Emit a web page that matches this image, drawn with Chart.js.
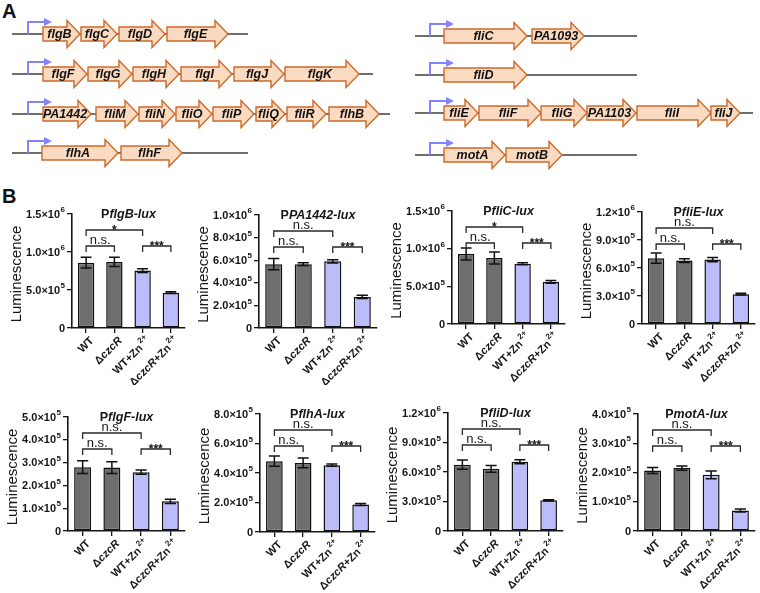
<!DOCTYPE html>
<html><head><meta charset="utf-8">
<script src="https://cdn.jsdelivr.net/npm/chart.js@4.4.1/dist/chart.umd.min.js"></script>
<style>
html,body{margin:0;padding:0;background:#fff}
body{width:760px;height:593px;position:relative;overflow:hidden;font-family:'Liberation Sans',Arial,sans-serif}
canvas{position:absolute}
.panel{position:absolute;font:bold 20px 'Liberation Sans',Arial,sans-serif;color:#111;line-height:22px}
</style></head><body>
<div class="panel" style="left:2px;top:0px">A</div>
<div class="panel" style="left:2px;top:185px">B</div>
<script>
// ---------------- DATA ----------------
const categories = ['WT', 'ΔczcR', 'WT+Zn2+', 'ΔczcR+Zn2+'];
const reporterGenes = ['flgB', 'PA1442', 'fliC', 'fliE', 'flgF', 'flhA', 'fliD', 'motA'];

const flgB_mean   = [8.6e5, 8.7e5, 7.55e5, 4.65e5];
const flgB_err    = [7.0e4, 6.0e4, 2.5e4, 1.2e4];
const PA1442_mean = [5.65e5, 5.65e5, 5.9e5, 2.75e5];
const PA1442_err  = [5.0e4, 1.3e4, 1.5e4, 1.5e4];
const fliC_mean   = [9.3e5, 8.75e5, 8.0e5, 5.6e5];
const fliC_err    = [8.0e4, 8.0e4, 1.3e4, 1.8e4];
const fliE_mean   = [7.05e5, 6.8e5, 6.9e5, 3.2e5];
const fliE_err    = [5.5e4, 2.0e4, 2.2e4, 1.0e4];
const flgF_mean   = [2.8e5, 2.78e5, 2.58e5, 1.3e5];
const flgF_err    = [2.8e4, 2.6e4, 9.0e3, 9.0e3];
const flhA_mean   = [4.8e5, 4.68e5, 4.53e5, 1.87e5];
const flhA_err    = [3.5e4, 3.3e4, 8.0e3, 7.0e3];
const fliD_mean   = [6.75e5, 6.32e5, 7.05e5, 3.12e5];
const fliD_err    = [4.8e4, 3.5e4, 2.0e4, 7.0e3];
const motA_mean   = [2.07e5, 2.15e5, 1.92e5, 7.0e4];
const motA_err    = [1.0e4, 7.5e3, 1.3e4, 5.0e3];

const yMax  = [1.5e6, 1.0e6, 1.5e6, 1.2e6, 5.0e5, 8.0e5, 1.2e6, 4.0e5];
const yStep = [5.0e5, 2.0e5, 5.0e5, 3.0e5, 1.0e5, 2.0e5, 3.0e5, 1.0e5];
const yTickLabels = [
  ['0', '5.0×10^5', '1.0×10^6', '1.5×10^6'],
  ['0', '2.0×10^5', '4.0×10^5', '6.0×10^5', '8.0×10^5', '1.0×10^6'],
  ['0', '5.0×10^5', '1.0×10^6', '1.5×10^6'],
  ['0', '3.0×10^5', '6.0×10^5', '9.0×10^5', '1.2×10^6'],
  ['0', '1.0×10^5', '2.0×10^5', '3.0×10^5', '4.0×10^5', '5.0×10^5'],
  ['0', '2.0×10^5', '4.0×10^5', '6.0×10^5', '8.0×10^5'],
  ['0', '3.0×10^5', '6.0×10^5', '9.0×10^5', '1.2×10^6'],
  ['0', '1.0×10^5', '2.0×10^5', '3.0×10^5', '4.0×10^5']
];
const sigWTvsWTZn   = ['*', 'n.s.', '*', 'n.s.', 'n.s.', 'n.s.', 'n.s.', 'n.s.'];
const sigWTvsCzcR   = ['n.s.', 'n.s.', 'n.s.', 'n.s.', 'n.s.', 'n.s.', 'n.s.', 'n.s.'];
const sigZnPair     = ['***', '***', '***', '***', '***', '***', '***', '***'];
const yAxisTitle = 'Luminescence';

const meansList = [flgB_mean, PA1442_mean, fliC_mean, fliE_mean, flgF_mean, flhA_mean, fliD_mean, motA_mean];
const errsList  = [flgB_err, PA1442_err, fliC_err, fliE_err, flgF_err, flhA_err, fliD_err, motA_err];

// Panel A operons (gene name, start, end along the drawing axis)
const op_flgB_genes  = ['flgB', 'flgC', 'flgD', 'flgE'];
const op_flgB_start  = [43, 81, 119, 167];
const op_flgB_end    = [80, 117, 165, 228];
const op_flgF_genes  = ['flgF', 'flgG', 'flgH', 'flgI', 'flgJ', 'flgK'];
const op_flgF_start  = [43, 88, 133, 181, 234, 285];
const op_flgF_end    = [87, 132, 179, 232, 284, 359];
const op_PA1442_genes = ['PA1442', 'fliM', 'fliN', 'fliO', 'fliP', 'fliQ', 'fliR', 'flhB'];
const op_PA1442_start = [43, 96, 139, 176, 213, 256, 287, 329];
const op_PA1442_end   = [91, 138, 175, 212, 254, 285, 326, 379];
const op_flhA_genes  = ['flhA', 'flhF'];
const op_flhA_start  = [42, 121];
const op_flhA_end    = [118, 182];
const op_fliC_genes  = ['fliC', 'PA1093'];
const op_fliC_start  = [444, 532];
const op_fliC_end    = [527, 584];
const op_fliD_genes  = ['fliD'];
const op_fliD_start  = [444];
const op_fliD_end    = [527];
const op_fliE_genes  = ['fliE', 'fliF', 'fliG', 'PA1103', 'fliI', 'fliJ'];
const op_fliE_start  = [444, 479, 541, 587, 637, 711];
const op_fliE_end    = [478, 541, 587, 636, 711, 740];
const op_motA_genes  = ['motA', 'motB'];
const op_motA_start  = [444, 506];
const op_motA_end    = [505, 562];

// ---------------- LAYOUT / STYLE ----------------
const FONT = "'Liberation Sans', Arial, sans-serif";
const operons = [
  {g: op_flgB_genes, s: op_flgB_start, e: op_flgB_end, y: 34, from: 12, to: 248, prom: 28},
  {g: op_flgF_genes, s: op_flgF_start, e: op_flgF_end, y: 74, from: 12, to: 373, prom: 28},
  {g: op_PA1442_genes, s: op_PA1442_start, e: op_PA1442_end, y: 114, from: 12, to: 390, prom: 28},
  {g: op_flhA_genes, s: op_flhA_start, e: op_flhA_end, y: 153, from: 12, to: 248, prom: 28},
  {g: op_fliC_genes, s: op_fliC_start, e: op_fliC_end, y: 36, from: 415, to: 637, prom: 430},
  {g: op_fliD_genes, s: op_fliD_start, e: op_fliD_end, y: 75, from: 415, to: 637, prom: 430},
  {g: op_fliE_genes, s: op_fliE_start, e: op_fliE_end, y: 113, from: 415, to: 753, prom: 430},
  {g: op_motA_genes, s: op_motA_start, e: op_motA_end, y: 155, from: 415, to: 637, prom: 430}
];

const boxes = [
  {x0: 0,   y0: 172, L: 72,  R: 185, T: 214, B: 328},
  {x0: 190, y0: 172, L: 259, R: 377, T: 215, B: 328},
  {x0: 380, y0: 172, L: 452, R: 565, T: 211, B: 324},
  {x0: 570, y0: 172, L: 642, R: 755, T: 212, B: 324},
  {x0: 0,   y0: 385, L: 68,  R: 185, T: 417, B: 531},
  {x0: 190, y0: 385, L: 260, R: 375, T: 414, B: 532},
  {x0: 380, y0: 385, L: 448, R: 563, T: 413, B: 531},
  {x0: 570, y0: 385, L: 638, R: 755, T: 414, B: 531}
];
const CW = 190;
const barColors = ['#6e6e6e', '#6e6e6e', '#bcbcfa', '#bcbcfa'];

function makeCanvas(x, y, w, h) {
  const c = document.createElement('canvas');
  c.width = w; c.height = h;
  c.style.left = x + 'px'; c.style.top = y + 'px';
  c.style.width = w + 'px'; c.style.height = h + 'px';
  document.body.appendChild(c);
  return c;
}

// ---------------- PANEL A ----------------
const geneMapPlugin = {
  id: 'geneMap',
  afterDraw(chart) {
    const ctx = chart.ctx, xs = chart.scales.x, ys = chart.scales.y;
    const px = v => xs.getPixelForValue(v), py = v => ys.getPixelForValue(v);
    operons.forEach(op => {
      const y = py(op.y);
      ctx.save();
      ctx.strokeStyle = '#6f6f6f'; ctx.lineWidth = 2;
      ctx.beginPath(); ctx.moveTo(px(op.from), y); ctx.lineTo(px(op.to), y); ctx.stroke();
      // promoter
      const p = px(op.prom);
      ctx.strokeStyle = '#8383ff'; ctx.fillStyle = '#8383ff'; ctx.lineWidth = 2;
      ctx.beginPath(); ctx.moveTo(p, y); ctx.lineTo(p, y - 12); ctx.lineTo(p + 17, y - 12); ctx.stroke();
      ctx.beginPath(); ctx.moveTo(p + 16, y - 16); ctx.lineTo(p + 24, y - 12); ctx.lineTo(p + 16, y - 8); ctx.closePath(); ctx.fill();
      // genes
      op.g.forEach((name, i) => {
        const a = px(op.s[i]), b = px(op.e[i]);
        const hs = Math.max(a, b - 13);
        ctx.beginPath();
        ctx.moveTo(a, y - 7); ctx.lineTo(hs, y - 7); ctx.lineTo(hs, y - 13.5);
        ctx.lineTo(b, y); ctx.lineTo(hs, y + 13.5); ctx.lineTo(hs, y + 7); ctx.lineTo(a, y + 7);
        ctx.closePath();
        ctx.fillStyle = '#fbdac2'; ctx.fill();
        ctx.strokeStyle = '#cc6a2a'; ctx.lineWidth = 1.4; ctx.lineJoin = 'miter'; ctx.stroke();
        ctx.fillStyle = '#111';
        ctx.font = 'italic bold 12.5px ' + FONT;
        ctx.textAlign = 'center'; ctx.textBaseline = 'middle';
        ctx.fillText(name, (a + b) / 2 - 2, y + 0.5);
      });
      ctx.restore();
    });
  }
};
new Chart(makeCanvas(0, 0, 760, 172), {
  type: 'scatter',
  data: {datasets: [{data: []}]},
  options: {
    responsive: false, animation: false, devicePixelRatio: 1,
    layout: {padding: 0},
    plugins: {legend: {display: false}, tooltip: {enabled: false}},
    scales: {
      x: {type: 'linear', min: 0, max: 760, display: false},
      y: {type: 'linear', min: 0, max: 172, reverse: true, display: false}
    }
  },
  plugins: [geneMapPlugin]
});

// ---------------- PANEL B ----------------
function drawSciLabel(ctx, lbl, x, y) {
  const parts = lbl.split('^');
  ctx.textBaseline = 'middle'; ctx.textAlign = 'left';
  const mainFont = 'bold 11px ' + FONT, supFont = 'bold 8px ' + FONT;
  ctx.font = mainFont; const w1 = ctx.measureText(parts[0]).width;
  let w2 = 0;
  if (parts[1]) { ctx.font = supFont; w2 = ctx.measureText(parts[1]).width + 0.5; }
  const start = x - w1 - w2;
  ctx.font = mainFont; ctx.fillText(parts[0], start, y);
  if (parts[1]) { ctx.font = supFont; ctx.fillText(parts[1], start + w1 + 0.5, y - 4.5); }
}
function labelSegments(lbl) {
  const segs = []; let rest = lbl;
  if (rest.startsWith('Δ')) { segs.push({t: 'Δ', s: 'n'}); rest = rest.slice(1); }
  if (rest.startsWith('czcR')) { segs.push({t: 'czcR', s: 'i'}); rest = rest.slice(4); }
  const m = rest.match(/^(.*?)(2\+)?$/);
  if (m[1]) segs.push({t: m[1], s: 'n'});
  if (m[2]) segs.push({t: m[2], s: 's'});
  return segs;
}
const segFont = {n: 'bold 11px ' + FONT, i: 'italic bold 11px ' + FONT, s: 'bold 8px ' + FONT};

function makeBarPlugin(idx) {
  return {
    id: 'annot' + idx,
    afterDatasetsDraw(chart) {
      const ctx = chart.ctx, ys = chart.scales.y;
      const meta = chart.getDatasetMeta(0);
      const means = meansList[idx], errs = errsList[idx];
      ctx.save();
      ctx.strokeStyle = '#111'; ctx.lineWidth = 1.5;
      meta.data.forEach((bar, i) => {
        const yt = ys.getPixelForValue(means[i] + errs[i]);
        const yb = ys.getPixelForValue(means[i] - errs[i]);
        const cap = bar.width * 0.33;
        ctx.beginPath();
        ctx.moveTo(bar.x, yt); ctx.lineTo(bar.x, yb);
        ctx.moveTo(bar.x - cap, yt); ctx.lineTo(bar.x + cap, yt);
        ctx.moveTo(bar.x - cap, yb); ctx.lineTo(bar.x + cap, yb);
        ctx.stroke();
      });
      ctx.restore();
    },
    afterDraw(chart) {
      const ctx = chart.ctx, ys = chart.scales.y, xs = chart.scales.x, ca = chart.chartArea;
      ctx.save();
      ctx.fillStyle = '#161616';
      // y tick labels
      ys.ticks.forEach((t, i) => {
        drawSciLabel(ctx, yTickLabels[idx][i], ca.left - 7, ys.getPixelForValue(t.value) + 0.5);
      });
      // y axis title
      ctx.save();
      ctx.translate(ca.left - 55, (ca.top + ca.bottom) / 2 + 3);
      ctx.rotate(-Math.PI / 2);
      ctx.font = '15px ' + FONT; ctx.textAlign = 'center'; ctx.textBaseline = 'middle';
      ctx.fillText(yAxisTitle, 0, 0);
      ctx.restore();
      // x tick labels (rotated 45°)
      categories.forEach((lbl, i) => {
        const tx = xs.getPixelForValue(i);
        const segs = labelSegments(lbl);
        let total = 0;
        segs.forEach(sg => { ctx.font = segFont[sg.s]; sg.w = ctx.measureText(sg.t).width; total += sg.w + (sg.s === 's' ? 1.5 : 0); });
        ctx.save();
        ctx.translate(tx + 6, ca.bottom + 11);
        ctx.rotate(-Math.PI / 4);
        ctx.textAlign = 'left'; ctx.textBaseline = 'middle';
        let x = -total;
        segs.forEach(sg => {
          ctx.font = segFont[sg.s];
          if (sg.s === 's') { x += 1.5; ctx.fillText(sg.t, x, -4.5); }
          else ctx.fillText(sg.t, x, 0);
          x += sg.w;
        });
        ctx.restore();
      });
      // title: P + italic gene + -lux
      const cx = (ca.left + ca.right) / 2, ty = ca.top + 1;
      const tParts = [{t: 'P', f: 'bold 12.5px ' + FONT}, {t: reporterGenes[idx] + '-lux', f: 'italic bold 12.5px ' + FONT}];
      let tw = 0;
      tParts.forEach(p => { ctx.font = p.f; p.w = ctx.measureText(p.t).width; tw += p.w; });
      let x = cx - tw / 2;
      ctx.textAlign = 'left'; ctx.textBaseline = 'middle';
      tParts.forEach(p => { ctx.font = p.f; ctx.fillText(p.t, x, ty); x += p.w; });
      // significance brackets
      const bx = i => xs.getPixelForValue(i);
      ctx.strokeStyle = '#2a2a2a'; ctx.lineWidth = 1.3;
      const bracket = (i1, i2, yy, text) => {
        ctx.beginPath();
        ctx.moveTo(bx(i1), yy + 6); ctx.lineTo(bx(i1), yy); ctx.lineTo(bx(i2), yy); ctx.lineTo(bx(i2), yy + 6);
        ctx.stroke();
        const mx = (bx(i1) + bx(i2)) / 2;
        ctx.textAlign = 'center'; ctx.textBaseline = 'alphabetic';
        if (text === 'n.s.') { ctx.font = '13px ' + FONT; ctx.fillText(text, mx, yy - 2); }
        else { ctx.font = 'bold 12px ' + FONT; ctx.fillText(text, mx, yy + 4); }
      };
      bracket(0, 2, ca.top + 16, sigWTvsWTZn[idx]);
      bracket(0, 1, ca.top + 32, sigWTvsCzcR[idx]);
      bracket(2, 3, ca.top + 32, sigZnPair[idx]);
      ctx.restore();
    }
  };
}

boxes.forEach((bx, idx) => {
  const h = idx < 4 ? 213 : 208;
  const YW = 6, XH = 6;
  const canvas = makeCanvas(bx.x0, bx.y0, CW, h);
  new Chart(canvas, {
    type: 'bar',
    data: {
      labels: categories,
      datasets: [{
        data: meansList[idx],
        backgroundColor: barColors,
        borderColor: '#111',
        borderWidth: 1.5,
        borderSkipped: false,
        barPercentage: 0.58,
        categoryPercentage: 1.0
      }]
    },
    options: {
      responsive: false, animation: false, devicePixelRatio: 1,
      layout: {padding: {left: bx.L - bx.x0 - YW, right: bx.x0 + CW - bx.R, top: bx.T - bx.y0, bottom: bx.y0 + h - bx.B - XH}},
      plugins: {legend: {display: false}, tooltip: {enabled: false}, title: {display: false}},
      scales: {
        x: {
          type: 'category', offset: true,
          grid: {display: true, drawOnChartArea: false, drawTicks: true, tickLength: 5, color: '#161616', lineWidth: 1.3, offset: false},
          border: {display: true, color: '#161616', width: 1.6},
          ticks: {display: false},
          afterFit(s) { s.height = XH; }
        },
        y: {
          min: 0, max: yMax[idx],
          grid: {display: true, drawOnChartArea: false, drawTicks: true, tickLength: 5, color: '#161616', lineWidth: 1.3},
          border: {display: true, color: '#161616', width: 1.6},
          ticks: {display: false, stepSize: yStep[idx]},
          afterFit(s) { s.width = YW; }
        }
      }
    },
    plugins: [makeBarPlugin(idx)]
  });
});
</script>
</body></html>
